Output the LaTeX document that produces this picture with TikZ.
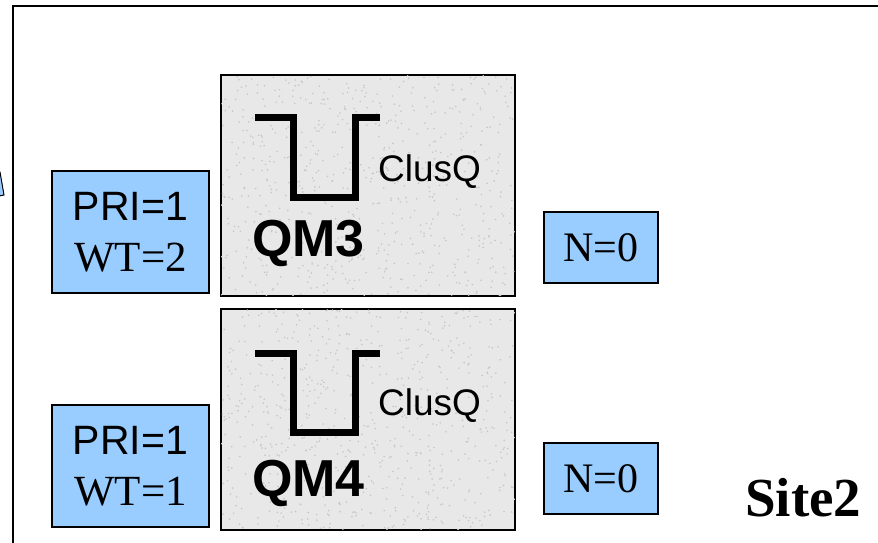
\documentclass[tikz,border=0pt]{standalone}
\usepackage{fontspec}
\setmainfont{Liberation Serif}
\setsansfont{Liberation Sans}
\usetikzlibrary{positioning}

\definecolor{boxblue}{HTML}{99CCFF}
\definecolor{granite}{HTML}{E8E8E8}

\tikzset{
  weightbox/.style={draw=black, line width=1.2pt, fill=boxblue, inner sep=0pt},
  qmbox/.style={draw=black, line width=1.2pt, fill=granite, minimum width=294pt, minimum height=221pt, inner sep=0pt},
  queueline/.style={line width=7pt, line join=miter}
}

\begin{document}
\begin{tikzpicture}[x=1pt, y=-1pt]
			\useasboundingbox (0,0) rectangle (878,542);
			\clip (0,0) rectangle (878,542);
			
			% Site frame (runs off the right and bottom)
			\draw[line width=1.5pt] (13,6) rectangle (900,560);
			% tip of a shape cut off at the left border
			\filldraw[fill=boxblue, line width=1pt] (-6,168) -- (0,172) -- (4,195) -- (-6,197) -- cycle;
			
			% Queue managers
			\node (qm3) at (368,185.5) [qmbox] {};
			\node (qm4) at (368,419.5) [qmbox] {};
			
			% speckle on the granite boxes
			\pgfmathsetseed{7}
			\begin{scope}
				\clip (qm3.north west) rectangle (qm3.south east);
				\foreach \i in {1,...,700}
					\fill[gray!45] (221+294*rnd, 75+221*rnd) circle (0.9pt);
			\end{scope}
			\begin{scope}
				\clip (qm4.north west) rectangle (qm4.south east);
				\foreach \i in {1,...,700}
					\fill[gray!45] (221+294*rnd, 309+221*rnd) circle (0.9pt);
			\end{scope}
			\draw[line width=1.2pt] (qm3.north west) rectangle (qm3.south east);
			\draw[line width=1.2pt] (qm4.north west) rectangle (qm4.south east);
			
			% Cluster queues
			\draw[queueline] ([shift={(-113,-68.5)}]qm3.center) -| ([shift={(-75,11.5)}]qm3.center) -| ([shift={(-13,-68.5)}]qm3.center) -- ++(25,0);
			\draw[queueline] ([shift={(-113,-66.5)}]qm4.center) -| ([shift={(-75,12.5)}]qm4.center) -| ([shift={(-13,-66.5)}]qm4.center) -- ++(25,0);
			\node (clusq3) at (378,181) [anchor=base west, font=\sffamily\fontsize{37}{37}\selectfont, inner sep=0pt] {ClusQ};
			\node (clusq4) at (378,415) [anchor=base west, font=\sffamily\fontsize{37}{37}\selectfont, inner sep=0pt] {ClusQ};
			\node (name3) at (252,256) [anchor=base west, font=\sffamily\bfseries\fontsize{52}{52}\selectfont, inner sep=0pt] {QM3};
			\node (name4) at (252,496) [anchor=base west, font=\sffamily\bfseries\fontsize{52}{52}\selectfont, inner sep=0pt] {QM4};
			
			% Channel priority and weight
			\node (pri3) at (130.5,232) [weightbox, minimum width=157pt, minimum height=122pt, align=center, font=\fontsize{41}{51}\selectfont] {{\sffamily PRI=1}\\{\fontsize{43}{51}\selectfont WT=2}};
			\node (pri4) at (130.5,466) [weightbox, minimum width=157pt, minimum height=122pt, align=center, font=\fontsize{41}{51}\selectfont] {{\sffamily PRI=1}\\{\fontsize{43}{51}\selectfont WT=1}};
			
			% Message counts
			\node (n3) at (601,247.5) [weightbox, minimum width=114pt, minimum height=71pt, font=\fontsize{42}{42}\selectfont] {N=0};
			\node (n4) at (601,478.5) [weightbox, minimum width=114pt, minimum height=71pt, font=\fontsize{42}{42}\selectfont] {N=0};
			
			\node (site) at (745,516) [anchor=base west, inner sep=0pt, font=\bfseries\fontsize{55}{55}\selectfont] {Site2};
		\end{tikzpicture}
\end{document}
